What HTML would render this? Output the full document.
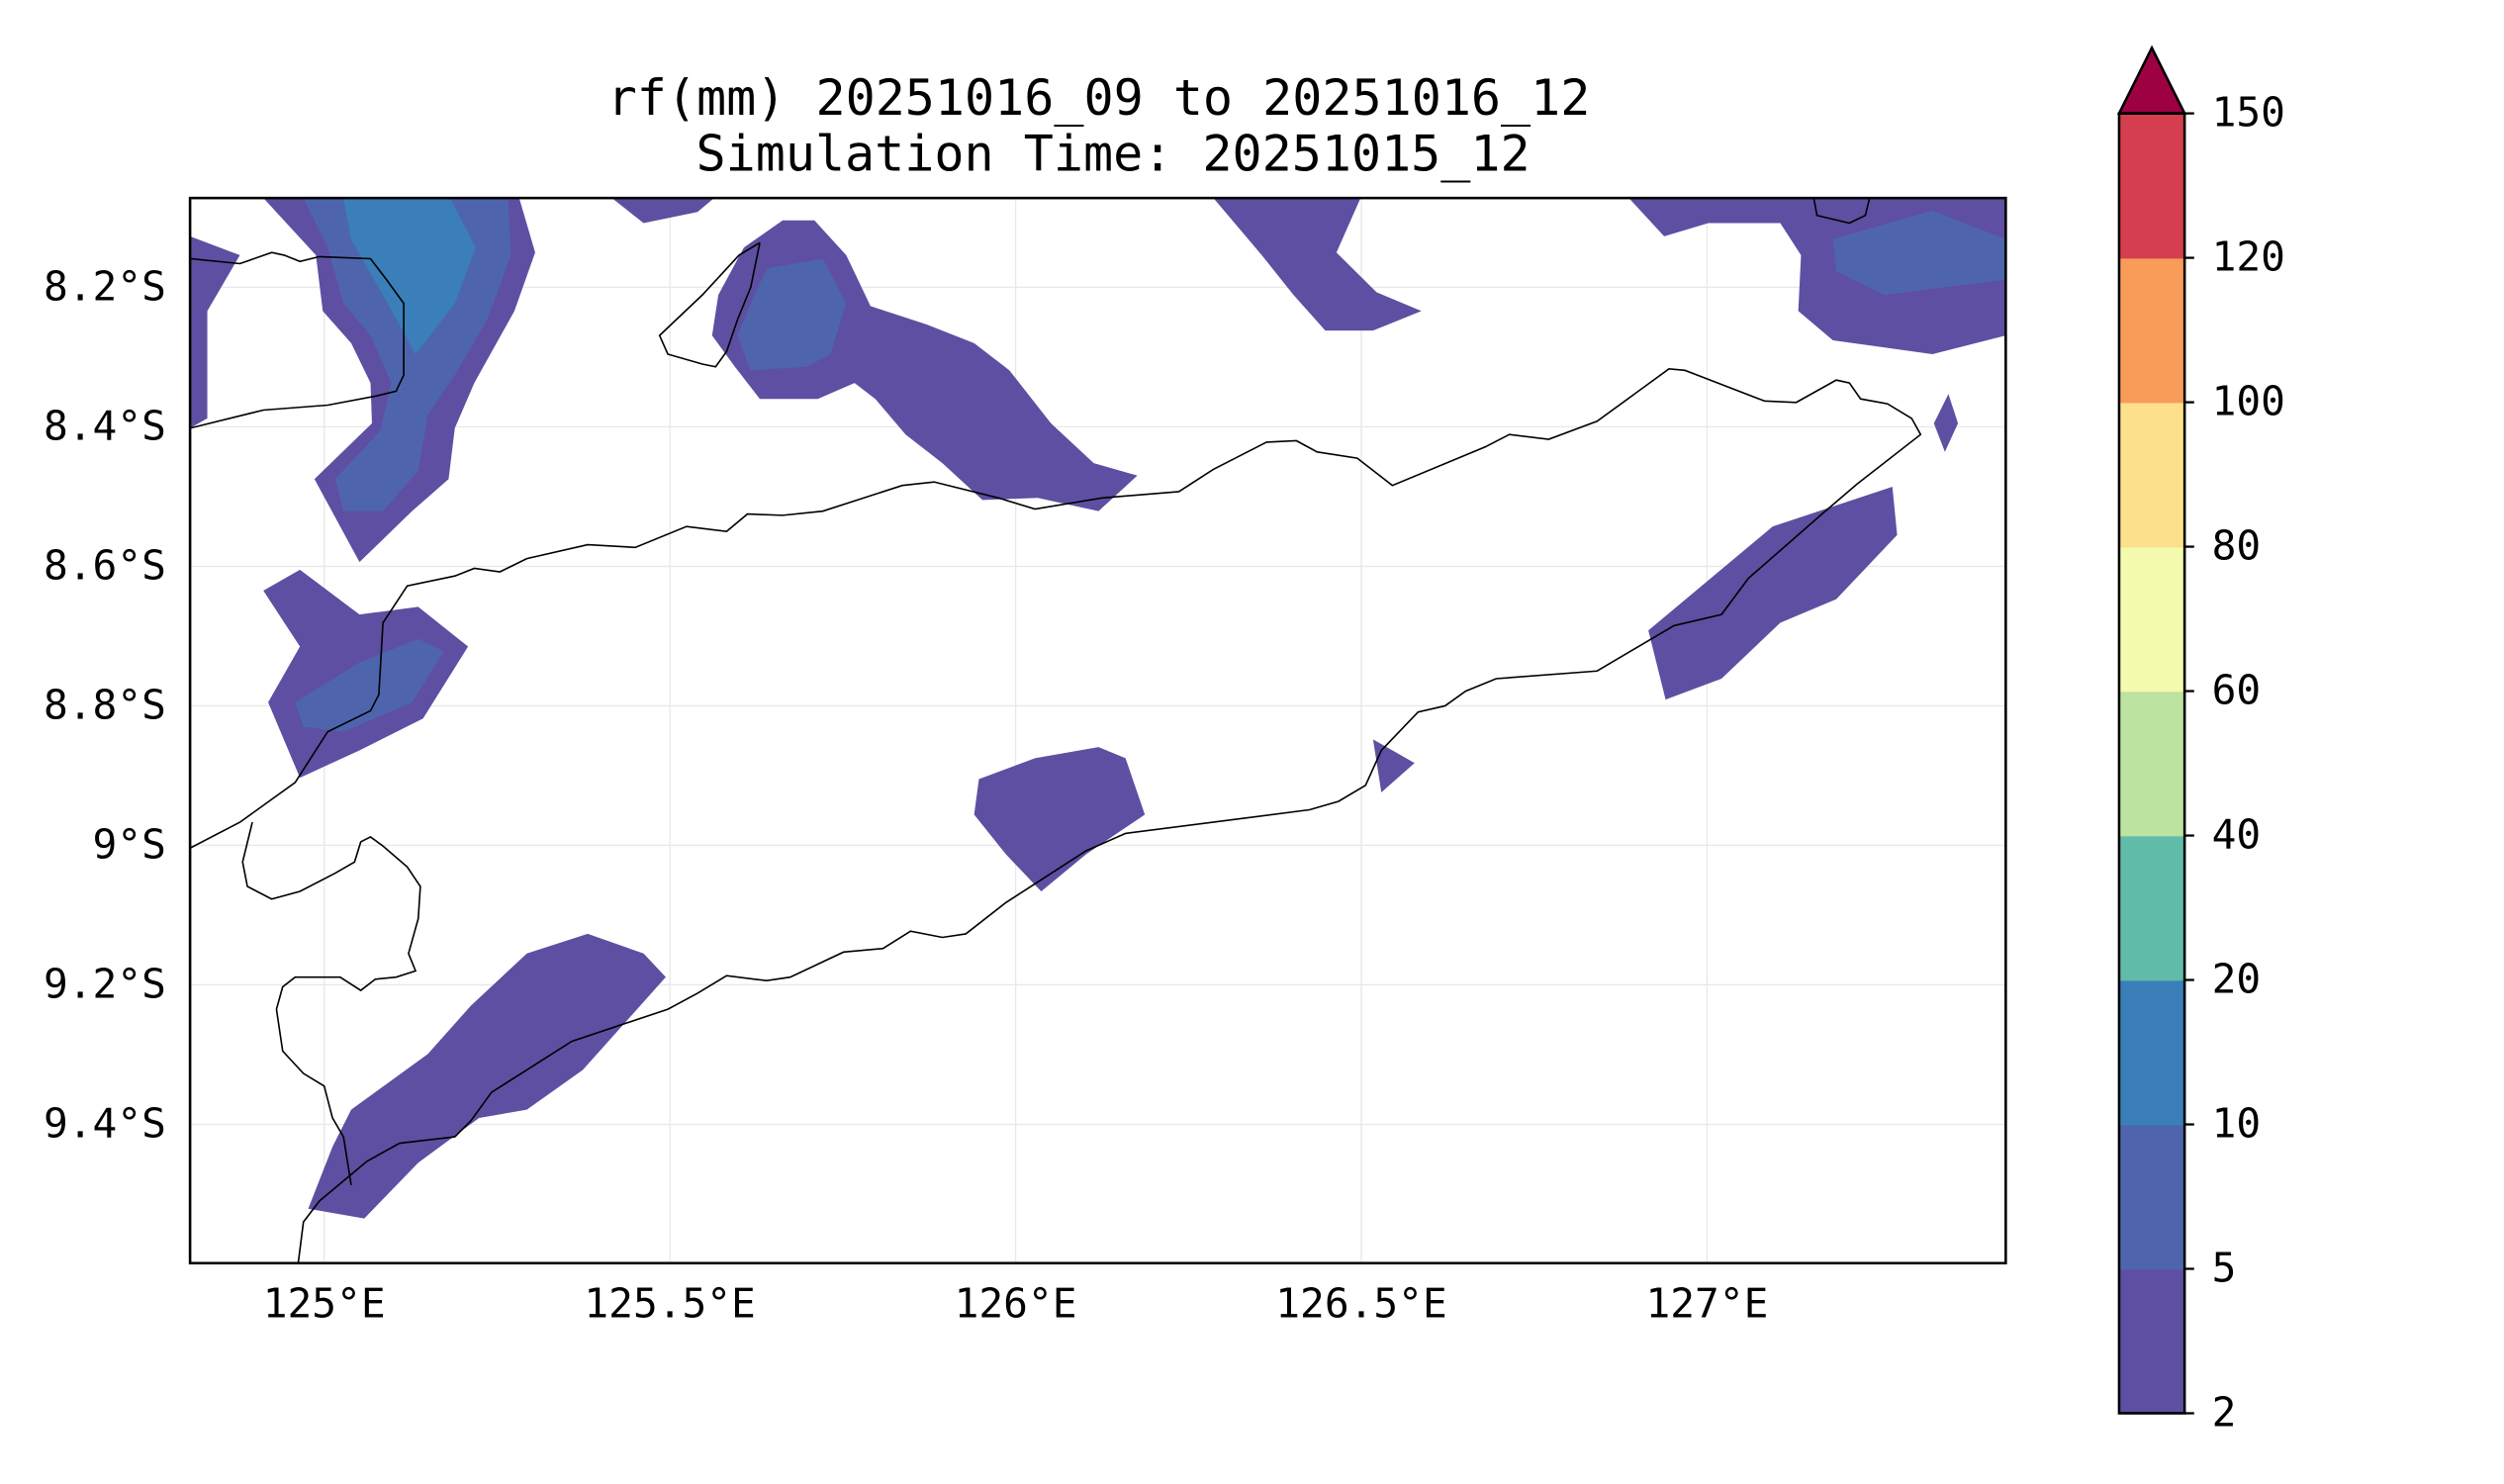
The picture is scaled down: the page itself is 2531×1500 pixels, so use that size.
<!DOCTYPE html>
<html><head><meta charset="utf-8"><style>
html,body{margin:0;padding:0;background:#fff;}
svg{display:block;}
text{font-family:"DejaVu Sans Mono","Liberation Mono",monospace;fill:#000;}
</style></head><body>
<svg id="fig" width="2531" height="1500" viewBox="0 0 1568 929.3" xmlns="http://www.w3.org/2000/svg">
<defs><clipPath id="clip"><rect x="119" y="124" width="1137" height="667"/></clipPath></defs>
<text x="688" y="72" font-size="31" text-anchor="middle">rf(mm) 20251016_09 to 20251016_12</text>
<text x="697" y="107" font-size="31" text-anchor="middle">Simulation Time: 20251015_12</text>
<g id="grid"></g>
<g id="fills" clip-path="url(#clip)"></g>
<g id="coast" clip-path="url(#clip)"></g>
<rect x="119" y="124" width="1137" height="667" fill="none" stroke="#000" stroke-width="1.6"/>
<g id="axes"></g>
<g id="cbar"></g>
</svg>
<script>
const lonTicks=[125,125.5,126,126.5,127];
const lonLabels=["125°E","125.5°E","126°E","126.5°E","127°E"];
const latTicks=[8.2,8.4,8.6,8.8,9.0,9.2,9.4];
const latLabels=["8.2°S","8.4°S","8.6°S","8.8°S","9°S","9.2°S","9.4°S"];
const levels=[2,5,10,20,40,60,80,100,120,150];
const levelColors=["#5e4fa2","#4e65ae","#3a7fb9","#60bba8","#bce4a0","#f4faae","#fce08c","#f99b59","#d53e4f"];
const extendColor="#9e0142";
// contour polygons: [level index, [[lon, latS], ...]]
const contour0=[0,[[124.912,8.072],[125.282,8.072],[125.305,8.150],[125.275,8.234],[125.217,8.337],[125.189,8.402],[125.180,8.475],[125.127,8.521],[125.051,8.594],[124.986,8.475],[125.069,8.395],[125.067,8.337],[125.039,8.280],[124.998,8.234],[124.988,8.154]]];
const contour1=[1,[[124.970,8.072],[125.266,8.072],[125.270,8.154],[125.236,8.246],[125.189,8.326],[125.150,8.383],[125.136,8.463],[125.085,8.521],[125.028,8.521],[125.016,8.475],[125.081,8.406],[125.097,8.337],[125.067,8.269],[125.028,8.223],[125.005,8.143]]];
const contour2=[2,[[125.028,8.072],[125.182,8.072],[125.219,8.143],[125.189,8.223],[125.132,8.296],[125.085,8.211],[125.039,8.131]]];
const contour3=[0,[[124.806,8.127],[124.878,8.154],[124.831,8.234],[124.831,8.388],[124.806,8.402]]];
const contour4=[0,[[124.912,8.635],[124.965,8.605],[125.051,8.669],[125.136,8.658],[125.208,8.715],[125.143,8.818],[125.051,8.864],[124.965,8.903],[124.919,8.795],[124.965,8.715]]];
const contour5=[1,[[124.958,8.795],[125.051,8.738],[125.136,8.704],[125.173,8.722],[125.127,8.795],[125.028,8.837],[124.970,8.830]]];
const contour6=[0,[[124.977,9.521],[125.058,9.535],[125.136,9.455],[125.224,9.391],[125.293,9.379],[125.374,9.322],[125.494,9.189],[125.462,9.155],[125.381,9.127],[125.293,9.155],[125.212,9.230],[125.150,9.299],[125.039,9.379],[125.012,9.432]]];
const contour7=[0,[[125.416,8.072],[125.564,8.072],[125.540,8.092],[125.462,8.108]]];
const contour8=[0,[[125.607,8.143],[125.663,8.104],[125.709,8.104],[125.755,8.154],[125.790,8.227],[125.871,8.253],[125.940,8.280],[125.991,8.319],[126.051,8.395],[126.113,8.452],[126.176,8.470],[126.120,8.521],[126.032,8.502],[125.952,8.505],[125.894,8.452],[125.841,8.411],[125.797,8.360],[125.767,8.337],[125.714,8.360],[125.630,8.360],[125.594,8.314],[125.561,8.269],[125.570,8.211]]];
const contour9=[1,[[125.617,8.223],[125.640,8.173],[125.721,8.159],[125.755,8.223],[125.732,8.296],[125.697,8.314],[125.617,8.319],[125.598,8.269]]];
const contour10=[0,[[126.286,8.072],[126.499,8.072],[126.464,8.150],[126.522,8.207],[126.587,8.234],[126.517,8.262],[126.448,8.262],[126.402,8.211],[126.356,8.154]]];
const contour11=[0,[[126.887,8.072],[127.432,8.072],[127.432,8.269],[127.326,8.296],[127.182,8.276],[127.132,8.234],[127.136,8.154],[127.106,8.108],[127.002,8.108],[126.938,8.127]]];
const contour12=[1,[[127.182,8.131],[127.326,8.090],[127.432,8.131],[127.432,8.189],[127.256,8.211],[127.187,8.177]]];
const contour13=[0,[[127.349,8.353],[127.363,8.395],[127.344,8.436],[127.328,8.395]]];
const contour14=[0,[[126.915,8.692],[127.095,8.543],[127.268,8.486],[127.275,8.555],[127.187,8.647],[127.106,8.681],[127.021,8.761],[126.940,8.791]]];
const contour15=[0,[[125.947,8.905],[126.028,8.875],[126.120,8.859],[126.159,8.875],[126.187,8.956],[126.102,9.013],[126.037,9.066],[125.986,9.013],[125.940,8.956]]];
const contour16=[0,[[126.517,8.848],[126.577,8.882],[126.529,8.924]]];
const contours=[contour0,contour1,contour2,contour3,contour4,contour5,contour6,contour7,contour8,contour9,contour10,contour11,contour12,contour13,contour14,contour15,contour16];
const coastMain=[[124.806,9.004],[124.878,8.967],[124.958,8.910],[125.005,8.837],[125.067,8.807],[125.079,8.784],[125.085,8.681],[125.120,8.628],[125.189,8.614],[125.217,8.603],[125.254,8.608],[125.293,8.589],[125.381,8.569],[125.450,8.573],[125.524,8.543],[125.582,8.550],[125.612,8.525],[125.663,8.527],[125.721,8.521],[125.836,8.484],[125.882,8.479],[125.975,8.502],[126.028,8.518],[126.125,8.502],[126.236,8.493],[126.286,8.461],[126.363,8.422],[126.406,8.420],[126.436,8.436],[126.494,8.445],[126.545,8.484],[126.679,8.429],[126.714,8.411],[126.771,8.418],[126.841,8.392],[126.945,8.317],[126.968,8.319],[127.083,8.363],[127.129,8.365],[127.187,8.333],[127.206,8.337],[127.222,8.360],[127.261,8.367],[127.296,8.388],[127.309,8.411],[127.217,8.482],[127.164,8.527],[127.060,8.617],[127.021,8.669],[126.952,8.685],[126.841,8.750],[126.695,8.761],[126.651,8.779],[126.621,8.800],[126.582,8.809],[126.529,8.864],[126.506,8.914],[126.467,8.937],[126.425,8.949],[126.159,8.983],[126.102,9.008],[125.986,9.082],[125.928,9.127],[125.894,9.132],[125.848,9.123],[125.808,9.148],[125.751,9.153],[125.674,9.189],[125.640,9.194],[125.582,9.187],[125.540,9.212],[125.497,9.235],[125.358,9.281],[125.293,9.322],[125.242,9.354],[125.212,9.395],[125.189,9.418],[125.109,9.427],[125.062,9.453],[124.993,9.510],[124.970,9.540],[124.961,9.610]];
const coastNorth=[[124.806,8.159],[124.878,8.166],[124.924,8.150],[124.942,8.154],[124.965,8.163],[124.993,8.156],[125.067,8.159],[125.090,8.189],[125.115,8.223],[125.115,8.326],[125.104,8.349],[125.074,8.356],[125.005,8.369],[124.912,8.376],[124.806,8.402]];
const coastIsland=[[125.630,8.136],[125.600,8.154],[125.547,8.211],[125.485,8.269],[125.497,8.296],[125.547,8.310],[125.566,8.314],[125.582,8.292],[125.598,8.246],[125.617,8.200],[125.630,8.136]];
const coastWest=[[124.896,8.967],[124.882,9.024],[124.889,9.059],[124.924,9.077],[124.965,9.066],[125.016,9.040],[125.044,9.024],[125.053,8.995],[125.067,8.988],[125.085,9.001],[125.120,9.031],[125.139,9.059],[125.136,9.105],[125.122,9.155],[125.132,9.180],[125.104,9.189],[125.074,9.192],[125.053,9.208],[125.023,9.189],[124.958,9.189],[124.940,9.203],[124.931,9.235],[124.940,9.295],[124.970,9.327],[125.000,9.345],[125.012,9.391],[125.028,9.418],[125.039,9.487]];
const coastNE=[[127.152,8.060],[127.159,8.097],[127.206,8.108],[127.229,8.097],[127.238,8.060]];
const coasts=[coastMain,coastNorth,coastIsland,coastWest,coastNE];

const NS="http://www.w3.org/2000/svg";
const X0=119,X1=1256,Y0=124,Y1=791,LON0=124.806,LON1=127.432,LAT0=8.072,LAT1=9.599;
function xs(lon){return X0+(lon-LON0)/(LON1-LON0)*(X1-X0);}
function ys(lat){return Y0+(lat-LAT0)/(LAT1-LAT0)*(Y1-Y0);}
const CB_X=1327,CB_W=41,CB_B=885,CB_T=71;
function cy(i){return CB_B-(CB_B-CB_T)*i/(levels.length-1);}
function mk(tag,attrs,parent){const e=document.createElementNS(NS,tag);for(const k in attrs)e.setAttribute(k,attrs[k]);parent.appendChild(e);return e;}

const grid=document.getElementById('grid');
lonTicks.forEach(v=>{const l=mk('line',{x1:xs(v),x2:xs(v),y1:Y0,y2:Y1,stroke:'#e8e8e8','stroke-width':0.8},grid);

});
latTicks.forEach(v=>{const l=mk('line',{x1:X0,x2:X1,y1:ys(v),y2:ys(v),stroke:'#e8e8e8','stroke-width':0.8},grid);

});

const fills=document.getElementById('fills');
contours.forEach(c=>{const p=mk('polygon',{points:c[1].map(q=>xs(q[0]).toFixed(1)+','+ys(q[1]).toFixed(1)).join(' '),fill:levelColors[c[0]]},fills);

});

const coast=document.getElementById('coast');
coasts.forEach(c=>{const p=mk('polyline',{points:c.map(q=>xs(q[0]).toFixed(1)+','+ys(q[1]).toFixed(1)).join(' '),fill:'none',stroke:'#000','stroke-width':1},coast);

});

const axes=document.getElementById('axes');
lonTicks.forEach((v,i)=>{const t=mk('text',{x:xs(v),y:825,'font-size':25.5,'text-anchor':'middle'},axes);t.textContent=lonLabels[i];

});
latTicks.forEach((v,i)=>{const t=mk('text',{x:104,y:ys(v)+8,'font-size':25.5,'text-anchor':'end'},axes);t.textContent=latLabels[i];

});

const cb=document.getElementById('cbar');
levelColors.forEach((col,i)=>{const r=mk('rect',{x:CB_X,y:cy(i+1),width:CB_W,height:cy(i)-cy(i+1)+0.5,fill:col},cb);

});
const tri=mk('polygon',{points:`${CB_X},${CB_T} ${CB_X+CB_W},${CB_T} ${CB_X+CB_W/2},30`,fill:extendColor,stroke:'#000','stroke-width':1.6},cb);


const fr=mk('rect',{x:CB_X,y:CB_T,width:CB_W,height:CB_B-CB_T,fill:'none',stroke:'#000','stroke-width':1.6},cb);


levels.forEach((v,i)=>{const y=cy(i);
const tk=mk('line',{x1:CB_X+CB_W,x2:CB_X+CB_W+6,y1:y,y2:y,stroke:'#000','stroke-width':1.4},cb);


const t=mk('text',{x:1385,y:y+8,'font-size':25.5},cb);t.textContent=v;

});
</script>
</body></html>
